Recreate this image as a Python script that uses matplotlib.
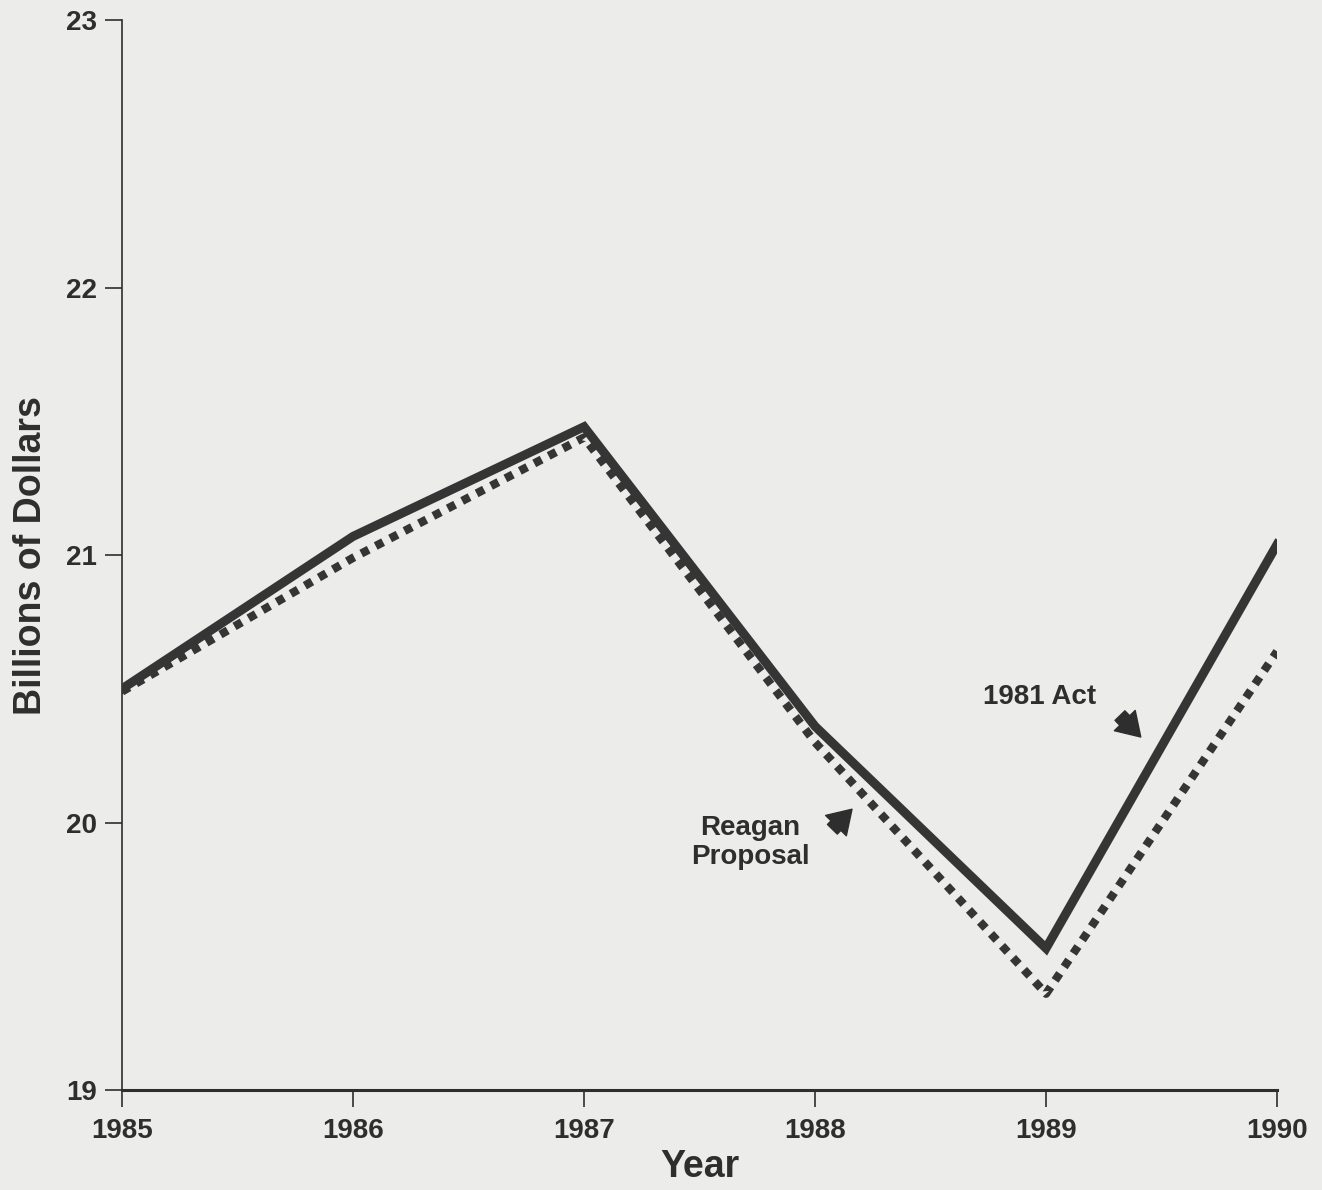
import matplotlib
matplotlib.use("Agg")
import matplotlib.pyplot as plt

years = [1985, 1986, 1987, 1988, 1989, 1990]
act_1981 = [20.50, 21.07, 21.48, 20.36, 19.53, 21.04]
reagan = [20.49, 20.99, 21.44, 20.30, 19.36, 20.64]
y_ticks = [19, 20, 21, 22, 23]

plt.rcParams['font.family'] = ['Liberation Sans', 'DejaVu Sans']
plt.rcParams['font.weight'] = 'bold'

bg = '#ececea'
ink = '#2e2e2e'

fig = plt.figure(figsize=(13.22, 11.90), dpi=100, facecolor=bg)
ax = fig.add_axes([0.0923, 0.084, 0.8737, 0.899])
ax.set_facecolor(bg)

ax.plot(years, act_1981, color='#353535', lw=6.5, solid_joinstyle='miter', zorder=3)
ax.plot(years, reagan, color='#353535', lw=6.0, linestyle=(0, (1.0, 0.95)),
        dash_capstyle='butt', zorder=2)

ax.set_xlim(1985, 1990)
ax.set_ylim(19, 23)
ax.set_xticks(years)
ax.set_yticks(y_ticks)
ax.set_xticklabels([str(y) for y in years], fontsize=20, fontweight='bold', color=ink)
ax.set_yticklabels([str(v) for v in y_ticks], fontsize=20, fontweight='bold', color=ink)

for s in ['top', 'right']:
    ax.spines[s].set_visible(False)
ax.spines['left'].set_linewidth(1.2)
ax.spines['bottom'].set_linewidth(2.2)
ax.spines['left'].set_color(ink)
ax.spines['bottom'].set_color(ink)
ax.tick_params(axis='y', direction='out', length=12, width=1.2, color=ink, pad=6)
ax.tick_params(axis='x', direction='out', length=12, width=1.2, color=ink, pad=8)

ax.set_xlabel('Year', fontsize=27, fontweight='bold', color=ink, labelpad=4)
ax.set_ylabel('Billions of Dollars', fontsize=27, fontweight='bold', color=ink, labelpad=12)

ax.text(1988.97, 20.47, '1981 Act', fontsize=20, fontweight='bold', color=ink,
        ha='center', va='center')
ax.text(1987.72, 19.98, 'Reagan', fontsize=20, fontweight='bold', color=ink,
        ha='center', va='center')
ax.text(1987.72, 19.87, 'Proposal', fontsize=20, fontweight='bold', color=ink,
        ha='center', va='center')

arrow = dict(arrowstyle='simple,head_width=0.95,head_length=0.75,tail_width=0.45',
             color=ink, shrinkA=0, shrinkB=0, mutation_scale=22)
ax.annotate('', xy=(1989.41, 20.32), xytext=(1989.32, 20.40), arrowprops=arrow)
ax.annotate('', xy=(1988.16, 20.05), xytext=(1988.075, 19.975), arrowprops=arrow)

fig.savefig('out.png', dpi=100, facecolor=bg)
